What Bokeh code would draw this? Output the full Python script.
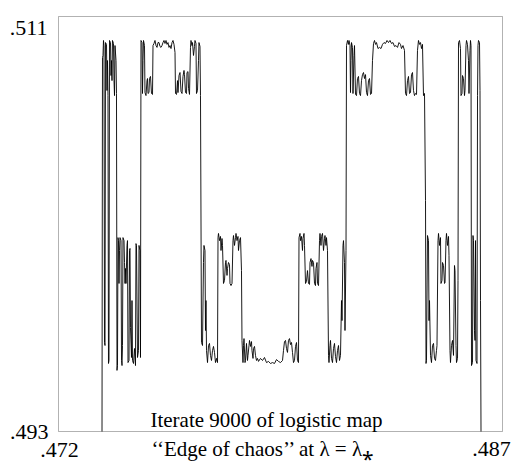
from bokeh.plotting import figure
from bokeh.models import Label, Range1d, BoxAnnotation
from bokeh.embed import file_html
from bokeh.resources import INLINE

# Iterate 9000 of the logistic map at the edge of chaos, traced band by band.
# x: starting value, y: value after 9000 iterations.

# left edge: rise and high spikes
left_spikes_x = [0.473470, 0.473486, 0.473503, 0.473520, 0.473537, 0.473554, 0.473571, 0.473588, 0.473622, 0.473638,
                 0.473655, 0.473672, 0.473689, 0.473706, 0.473723, 0.473757, 0.473774, 0.473791, 0.473807, 0.473824,
                 0.473858, 0.473875, 0.473892, 0.473909, 0.473943, 0.473959, 0.473976, 0.473993]
left_spikes_y = [0.49300, 0.50922, 0.50931, 0.50996, 0.50974, 0.49686, 0.49673, 0.50987, 0.50979, 0.50779,
                 0.50909, 0.50757, 0.49595, 0.49608, 0.50996, 0.50987, 0.50844, 0.50909, 0.50822, 0.50996,
                 0.50983, 0.50822, 0.50757, 0.50974, 0.50909, 0.50766, 0.49565, 0.49586]

# left low band
left_low_x = [0.474010, 0.474027, 0.474044, 0.474061, 0.474078, 0.474112, 0.474129, 0.474146, 0.474162, 0.474179,
              0.474213, 0.474230, 0.474247, 0.474264, 0.474281, 0.474314, 0.474331, 0.474348, 0.474382, 0.474399,
              0.474416, 0.474432, 0.474466, 0.474483, 0.474500, 0.474534, 0.474568, 0.474601, 0.474618, 0.474635,
              0.474669, 0.474703, 0.474720, 0.474753, 0.474770]
left_low_y = [0.50141, 0.50128, 0.49942, 0.50085, 0.50141, 0.50128, 0.49608, 0.49586, 0.49673, 0.50141,
              0.50128, 0.50033, 0.49942, 0.50007, 0.49942, 0.50107, 0.50128, 0.49599, 0.49608, 0.50085,
              0.50094, 0.49751, 0.49621, 0.49868, 0.49608, 0.49595, 0.49660, 0.49586, 0.50115, 0.50107,
              0.49621, 0.49651, 0.50107, 0.50085, 0.49621]

# left high band
left_high_x = [0.474787, 0.474821, 0.474838, 0.474855, 0.474872, 0.474905, 0.474922, 0.474956, 0.474990, 0.475007,
               0.475024, 0.475057, 0.475074, 0.475108, 0.475142, 0.475176, 0.475193, 0.475226, 0.475260, 0.475294,
               0.475328, 0.475361, 0.475395, 0.475429, 0.475463, 0.475497, 0.475530, 0.475564, 0.475598, 0.475632,
               0.475666, 0.475699, 0.475733, 0.475767, 0.475801, 0.475835, 0.475868, 0.475902, 0.475936, 0.475953,
               0.475987, 0.476021, 0.476037, 0.476071, 0.476105, 0.476139, 0.476173, 0.476206, 0.476240, 0.476257,
               0.476291, 0.476325, 0.476341, 0.476375, 0.476392, 0.476426, 0.476459, 0.476476, 0.476510, 0.476527,
               0.476561, 0.476594, 0.476611, 0.476645, 0.476662, 0.476696, 0.476730, 0.476746, 0.476780, 0.476797]
left_high_y = [0.50996, 0.50987, 0.50766, 0.50909, 0.50996, 0.50974, 0.50770, 0.50757, 0.50822, 0.50831,
               0.50766, 0.50770, 0.50831, 0.50840, 0.50766, 0.50762, 0.50974, 0.50983, 0.50996, 0.50974,
               0.50966, 0.50987, 0.50987, 0.50970, 0.50966, 0.50974, 0.50987, 0.50996, 0.50983, 0.50996,
               0.50979, 0.50987, 0.50966, 0.50974, 0.50961, 0.50987, 0.50996, 0.50979, 0.50944, 0.50766,
               0.50762, 0.50822, 0.50770, 0.50844, 0.50857, 0.50775, 0.50766, 0.50840, 0.50866, 0.50848,
               0.50770, 0.50766, 0.50857, 0.50861, 0.50788, 0.50762, 0.50966, 0.50996, 0.50974, 0.50987,
               0.50931, 0.50970, 0.50996, 0.50983, 0.50766, 0.50779, 0.50909, 0.50987, 0.50970, 0.50757]

# centre low band, left half
centre_left_x = [0.476831, 0.476865, 0.476898, 0.476915, 0.476949, 0.476966, 0.476983, 0.477000, 0.477034, 0.477068,
                 0.477101, 0.477135, 0.477169, 0.477203, 0.477236, 0.477270, 0.477304, 0.477338, 0.477372, 0.477389,
                 0.477405, 0.477439, 0.477473, 0.477490, 0.477524, 0.477541, 0.477574, 0.477608, 0.477642, 0.477659,
                 0.477693, 0.477709, 0.477743, 0.477777, 0.477794, 0.477828, 0.477862, 0.477895, 0.477912, 0.477946,
                 0.477980, 0.477997, 0.478030, 0.478064, 0.478081, 0.478115, 0.478149, 0.478182, 0.478199]
centre_left_y = [0.49686, 0.49673, 0.50033, 0.50107, 0.50085, 0.49738, 0.49868, 0.49651, 0.49599, 0.49673,
                 0.49682, 0.49630, 0.49608, 0.49651, 0.49669, 0.49643, 0.49599, 0.49617, 0.49599, 0.50141,
                 0.50159, 0.50128, 0.50146, 0.50085, 0.50137, 0.50107, 0.49942, 0.49955, 0.50033, 0.50042,
                 0.49977, 0.50007, 0.50033, 0.50024, 0.49942, 0.49933, 0.49942, 0.50128, 0.50150, 0.50107,
                 0.50141, 0.50159, 0.50128, 0.50146, 0.50085, 0.50128, 0.50141, 0.49998, 0.49695]

# floor of the centre
floor_x = [0.478233, 0.478250, 0.478267, 0.478301, 0.478318, 0.478351, 0.478385, 0.478402, 0.478436, 0.478453,
           0.478486, 0.478520, 0.478537, 0.478571, 0.478588, 0.478622, 0.478655, 0.478689, 0.478723, 0.478757,
           0.478824, 0.478892, 0.478959, 0.479027, 0.479095, 0.479162, 0.479230, 0.479297, 0.479365, 0.479432,
           0.479500, 0.479568, 0.479601, 0.479635, 0.479669, 0.479703, 0.479736, 0.479770, 0.479804, 0.479838,
           0.479872, 0.479905, 0.479939, 0.479973, 0.480007, 0.480041, 0.480074, 0.480108]
floor_y = [0.49599, 0.49673, 0.49703, 0.49599, 0.49608, 0.49682, 0.49608, 0.49630, 0.49673, 0.49695,
           0.49669, 0.49690, 0.49651, 0.49617, 0.49660, 0.49669, 0.49630, 0.49608, 0.49617, 0.49604,
           0.49617, 0.49608, 0.49621, 0.49599, 0.49604, 0.49595, 0.49599, 0.49595, 0.49612, 0.49604,
           0.49599, 0.49608, 0.49651, 0.49690, 0.49695, 0.49660, 0.49643, 0.49695, 0.49703, 0.49677,
           0.49686, 0.49643, 0.49599, 0.49608, 0.49669, 0.49686, 0.49608, 0.49599]

# centre low band, right half
centre_right_x = [0.480125, 0.480159, 0.480176, 0.480209, 0.480243, 0.480260, 0.480294, 0.480311, 0.480345, 0.480378,
                  0.480412, 0.480446, 0.480480, 0.480497, 0.480530, 0.480564, 0.480581, 0.480615, 0.480649, 0.480682,
                  0.480699, 0.480733, 0.480750, 0.480784, 0.480818, 0.480834, 0.480868, 0.480885, 0.480919, 0.480953,
                  0.480986, 0.481003, 0.481037, 0.481054, 0.481088, 0.481122, 0.481138, 0.481172, 0.481189, 0.481223,
                  0.481257, 0.481291, 0.481324, 0.481358, 0.481392, 0.481426, 0.481459, 0.481493, 0.481527, 0.481561,
                  0.481578, 0.481612, 0.481628, 0.481662, 0.481679, 0.481713, 0.481730]
centre_right_y = [0.50141, 0.50159, 0.50128, 0.50146, 0.50085, 0.50137, 0.50159, 0.50107, 0.49942, 0.49951,
                  0.49998, 0.49942, 0.49938, 0.50033, 0.50050, 0.50016, 0.50042, 0.50033, 0.49942, 0.49933,
                  0.50007, 0.50033, 0.49942, 0.49933, 0.50128, 0.50159, 0.50107, 0.50146, 0.50159, 0.50085,
                  0.50137, 0.50150, 0.50107, 0.50141, 0.50085, 0.49630, 0.49599, 0.49673, 0.49695, 0.49617,
                  0.49599, 0.49660, 0.49682, 0.49625, 0.49599, 0.49651, 0.49673, 0.49608, 0.49630, 0.49868,
                  0.49781, 0.50107, 0.50128, 0.50033, 0.49738, 0.50085, 0.50974]

# right high band
right_high_x = [0.481764, 0.481797, 0.481814, 0.481848, 0.481865, 0.481882, 0.481899, 0.481932, 0.481949, 0.481983,
                0.482000, 0.482034, 0.482068, 0.482101, 0.482135, 0.482169, 0.482203, 0.482237, 0.482270, 0.482304,
                0.482338, 0.482372, 0.482406, 0.482439, 0.482473, 0.482507, 0.482541, 0.482575, 0.482608, 0.482642,
                0.482676, 0.482710, 0.482743, 0.482794, 0.482845, 0.482895, 0.482946, 0.482997, 0.483047, 0.483098,
                0.483149, 0.483199, 0.483250, 0.483301, 0.483351, 0.483402, 0.483453, 0.483503, 0.483554, 0.483588,
                0.483639, 0.483689, 0.483723, 0.483757, 0.483791, 0.483824, 0.483858, 0.483892, 0.483926, 0.483959,
                0.483993, 0.484027, 0.484061, 0.484095, 0.484128, 0.484162, 0.484196, 0.484230, 0.484264, 0.484297,
                0.484331, 0.484365]
right_high_y = [0.50996, 0.50979, 0.50996, 0.50974, 0.50770, 0.50909, 0.50987, 0.50966, 0.50766, 0.50931,
                0.50974, 0.50762, 0.50757, 0.50831, 0.50840, 0.50766, 0.50757, 0.50822, 0.50848, 0.50857,
                0.50831, 0.50848, 0.50770, 0.50757, 0.50822, 0.50831, 0.50762, 0.50766, 0.50909, 0.50983,
                0.50996, 0.50979, 0.50987, 0.50961, 0.50966, 0.50961, 0.50979, 0.50987, 0.50983, 0.50996,
                0.50987, 0.50996, 0.50983, 0.50987, 0.50970, 0.50974, 0.50966, 0.50987, 0.50979, 0.50961,
                0.50974, 0.50953, 0.50766, 0.50757, 0.50822, 0.50840, 0.50766, 0.50770, 0.50848, 0.50857,
                0.50779, 0.50757, 0.50766, 0.50762, 0.50953, 0.50996, 0.50979, 0.50987, 0.50961, 0.50979,
                0.50757, 0.50766]

# right low band
right_low_x = [0.484399, 0.484416, 0.484432, 0.484466, 0.484500, 0.484517, 0.484534, 0.484568, 0.484601, 0.484635,
               0.484669, 0.484703, 0.484736, 0.484770, 0.484787, 0.484821, 0.484838, 0.484872, 0.484905, 0.484922,
               0.484956, 0.484973, 0.485007, 0.485041, 0.485058, 0.485091, 0.485108, 0.485142, 0.485176, 0.485193,
               0.485226, 0.485243, 0.485277, 0.485311, 0.485345, 0.485378, 0.485395, 0.485429, 0.485446, 0.485480,
               0.485497]
right_low_y = [0.50302, 0.49595, 0.49608, 0.50150, 0.50128, 0.49781, 0.49868, 0.49630, 0.49599, 0.49673,
               0.49682, 0.49617, 0.49608, 0.49651, 0.49673, 0.50128, 0.50159, 0.50107, 0.50141, 0.49942,
               0.49955, 0.50033, 0.50020, 0.49942, 0.49946, 0.50128, 0.50159, 0.50107, 0.50146, 0.50063,
               0.49651, 0.49599, 0.49673, 0.49695, 0.49630, 0.50020, 0.49998, 0.49673, 0.49599, 0.49617,
               0.49955]

# right edge: high spikes and final fall
right_spikes_x = [0.485514, 0.485547, 0.485581, 0.485598, 0.485632, 0.485649, 0.485682, 0.485716, 0.485733, 0.485767,
                  0.485784, 0.485817, 0.485851, 0.485868, 0.485902, 0.485919, 0.485936, 0.485953, 0.485986, 0.486003,
                  0.486020, 0.486054, 0.486071, 0.486088, 0.486105, 0.486139, 0.486156, 0.486172, 0.486189, 0.486223,
                  0.486240, 0.486257, 0.486274]
right_spikes_y = [0.50987, 0.50996, 0.50961, 0.50757, 0.50766, 0.50844, 0.50831, 0.50757, 0.50779, 0.50974,
                  0.50996, 0.50979, 0.50909, 0.50766, 0.50953, 0.50996, 0.50974, 0.49586, 0.49599, 0.50150,
                  0.50128, 0.49738, 0.49695, 0.50128, 0.49608, 0.49595, 0.50757, 0.50974, 0.50996, 0.50987,
                  0.50779, 0.49868, 0.49300]

x_ticks = [0.472, 0.487]
x_tick_labels = [".472", ".487"]
y_ticks = [0.493, 0.511]
y_tick_labels = [".493", ".511"]
inner_title = "Iterate 9000 of logistic map"
caption = "\u2018\u2018Edge of chaos\u2019\u2019 at \u03bb = \u03bb\u204e"

xs = (left_spikes_x + left_low_x + left_high_x + centre_left_x + floor_x
      + centre_right_x + right_high_x + right_low_x + right_spikes_x)
ys = (left_spikes_y + left_low_y + left_high_y + centre_left_y + floor_y
      + centre_right_y + right_high_y + right_low_y + right_spikes_y)

# canvas and the box's margins inside it, in pixels
W, H = 516, 466
BOX_L, BOX_R, BOX_T, BOX_B = 58, 14, 16, 35
kx = (x_ticks[1] - x_ticks[0]) / (W - BOX_L - BOX_R)
ky = (y_ticks[1] - y_ticks[0]) / (H - BOX_T - BOX_B)

p = figure(width=W, height=H, output_backend="svg", toolbar_location=None,
           x_range=Range1d(x_ticks[0] - BOX_L * kx, x_ticks[1] + BOX_R * kx),
           y_range=Range1d(y_ticks[0] - BOX_B * ky, y_ticks[1] + BOX_T * ky),
           x_axis_type=None, y_axis_type=None,
           min_border=0, min_border_left=0, min_border_right=0,
           min_border_top=0, min_border_bottom=0)
p.outline_line_color = None
p.background_fill_color = "white"
p.border_fill_color = "white"

p.add_layout(BoxAnnotation(left=x_ticks[0], right=x_ticks[1], bottom=y_ticks[0], top=y_ticks[1],
                           fill_alpha=0, line_color="black", line_width=1.0))

p.line(xs, ys, line_color="black", line_width=0.9)

FONT = "Liberation Serif"
SIZE = "21px"


def add_text(text, x, y, dx, dy, align, size=SIZE):
    p.add_layout(Label(x=x, y=y, x_offset=dx, y_offset=dy, text=text,
                       text_align=align, text_baseline="alphabetic",
                       text_font=FONT, text_font_size=size, text_color="black"))


add_text(y_tick_labels[1], x_ticks[0], y_ticks[1], -11, -11, "right", "22px")
add_text(y_tick_labels[0], x_ticks[0], y_ticks[0], -10, 0, "right", "22px")
add_text(x_tick_labels[0], x_ticks[0], y_ticks[0], 1, -18, "center", "22px")
add_text(x_tick_labels[1], x_ticks[1], y_ticks[0], -11, -17, "center", "22px")
add_text(inner_title, x_ticks[0], y_ticks[0], 208, 12, "center")
add_text(caption, x_ticks[0], y_ticks[0], 93, -17, "left")

open("out.html", "w").write(file_html(p, INLINE))
